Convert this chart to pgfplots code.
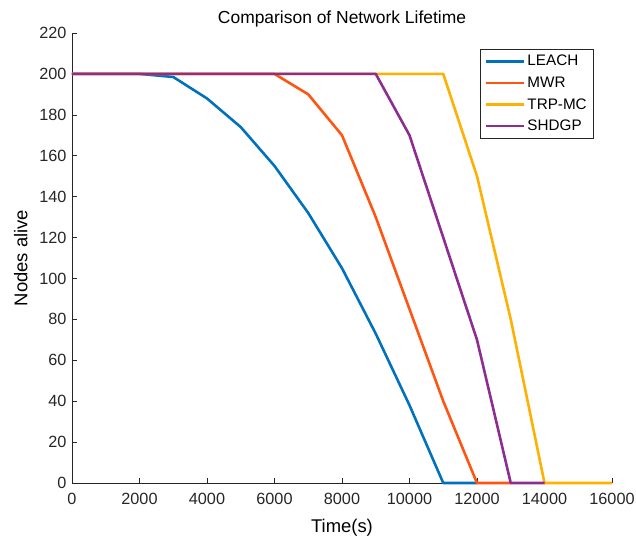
\documentclass[border=0pt]{standalone}
\usepackage{pgfplots}
\pgfplotsset{compat=1.18}
\usepackage{fontspec}
\setmainfont{Liberation Sans}
\definecolor{cLEACH}{HTML}{0072BD}
\definecolor{cMWR}{HTML}{FF5511}
\definecolor{cTRP}{HTML}{FFB000}
\definecolor{cSHD}{HTML}{8E2C90}
\begin{document}
\begin{tikzpicture}
\path[use as bounding box] (-72bp,-56bp) rectangle (564bp,483bp);
\begin{axis}[
  scale only axis, width=540bp, height=450bp,
  xmin=0, xmax=16000, ymin=0, ymax=220,
  axis x line=bottom, axis y line=left,
  axis line style={-, black!85, line width=0.6pt},
  tick align=inside, major tick length=5bp,
  tick style={black!85, line width=0.6pt},
  xtick={0,2000,...,16000}, ytick={0,20,...,220},
  scaled x ticks=false,
  xticklabel style={/pgf/number format/1000 sep={}, yshift=-7bp},
  /pgf/number format/assume math mode=true,
  ticklabel style={font=\fontsize{16.3}{18}\selectfont, text=black!85},
  yticklabel style={xshift=-2bp},
  title={Comparison of Network Lifetime},
  title style={font=\fontsize{17.5}{19}\selectfont, anchor=base, at={(rel axis cs:0.5,1)}, yshift=4bp},
  xlabel={Time(s)}, ylabel={Nodes alive},
  label style={font=\fontsize{18.5}{20}\selectfont},
  xlabel style={yshift=-7bp},
  ylabel style={yshift=5bp},
  legend style={at={(rel axis cs:0.9667,0.9644)}, anchor=north east,
    draw=black!85, line width=0.6pt, font=\fontsize{15.3}{17}\selectfont,
    inner xsep=5bp, inner ysep=4bp, row sep=5.5bp},
  legend cell align=left,
  legend image code/.code={\draw[#1, line width=2.6pt] (0bp,0bp) -- (38bp,0bp);},
  every axis plot/.append style={line width=2.6pt, line join=round},
  clip=false,
]
\addplot[cLEACH] coordinates {(0,200)(1000,200)(2000,200)(3000,198.5)(4000,188)(5000,174)(6000,155)(7000,132)(8000,105)(9000,73)(10000,38)(11000,0)(12000,0)};
\addplot[cMWR] coordinates {(0,200)(6000,200)(7000,190)(8000,170)(9000,130)(10000,85)(11000,40)(12000,0)(13000,0)};
\addplot[cTRP] coordinates {(0,200)(11000,200)(12000,150)(13000,80)(14000,0)(16000,0)};
\addplot[cSHD] coordinates {(0,200)(9000,200)(10000,170)(11000,120)(12000,70)(13000,0)(14000,0)};
\legend{LEACH,MWR,TRP-MC,SHDGP}
\end{axis}
\end{tikzpicture}
\end{document}
